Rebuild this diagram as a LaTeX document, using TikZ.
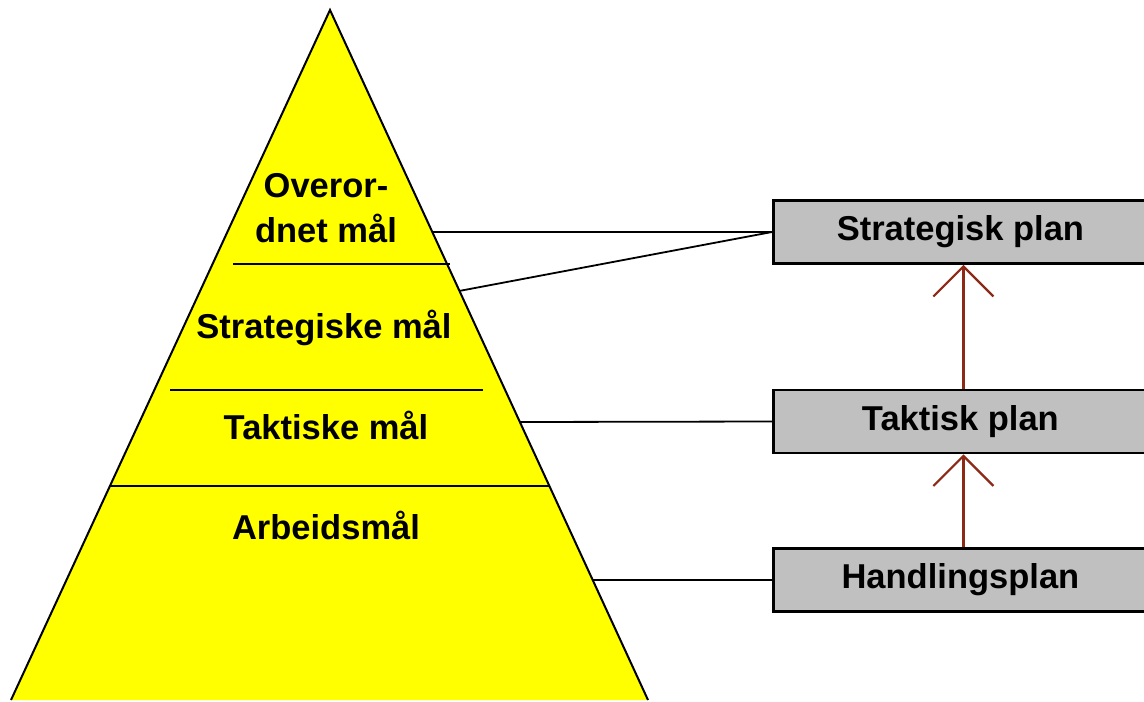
\documentclass[tikz,border=0pt]{standalone}
\usepackage{fontspec}
\setmainfont{Liberation Sans}
\usetikzlibrary{arrows.meta}
\definecolor{pyrfill}{RGB}{255,255,0}
\definecolor{boxfill}{RGB}{192,192,192}
\definecolor{arrowbrown}{RGB}{140,42,22}
\tikzset{
  lbl/.style={font=\fontsize{17.25}{22.5}\selectfont\bfseries, align=center, inner sep=0pt},
  planbox/.style={draw=black, line width=1.4pt, fill=boxfill, anchor=west,
    minimum width=187pt, minimum height=31.5pt, inner sep=0pt,
    font=\fontsize{17.25}{22.5}\selectfont\bfseries},
  level/.style={line width=1pt, black},
  link/.style={line width=0.9pt, black},
  uparrow/.style={line width=1.1pt, arrowbrown,
    -{Straight Barb[length=15pt,width=30pt,line width=1.1pt]}}
}
\begin{document}
\begin{tikzpicture}[x=0.5pt,y=-0.5pt]
  \useasboundingbox (0,0) rectangle (1144,701);
  \clip (0,0) rectangle (1144,701);
  \fill[white] (0,0) rectangle (1144,701);

  % pyramid
  \coordinate (apex) at (330,10);
  \coordinate (bl) at (11,700);
  \coordinate (br) at (648,700);
  \draw[fill=pyrfill, line width=1pt] (bl) -- (apex) -- (br);

  % level separators
  \draw[level] (233,264) -- (450,264);
  \draw[level] (170,390) -- (483,390);
  \draw[level] (110,486) -- (549,486);

  % level labels
  \node[lbl] (overordnet) at (326,208) {Overor-\\dnet mål};
  \node[lbl] (strategiske) at (324,328) {Strategiske mål};
  \node[lbl] (taktiske) at (326,425) {Taktiske mål};
  \node[lbl] (arbeid) at (326,525) {Arbeidsmål};

  % plan boxes
  \node[planbox] (strat) at (772,232) {Strategisk plan};
  \node[planbox] (takt) at (772,421.5) {Taktisk plan};
  \node[planbox] (handl) at (772,580) {Handlingsplan};

  % points on the pyramid edge where the links start
  \coordinate (e1) at (432,232);
  \coordinate (e2) at (459,291);
  \coordinate (e3) at (520,422);
  \coordinate (e4) at (592,580);

  % links from the pyramid to the plans
  \draw[link] (e1) -- (strat.west);
  \draw[link] (e2) -- (strat.west);
  \draw[link] (e3) -- (takt.west);
  \draw[link] (e4) -- (handl.west);

  % plan hierarchy arrows
  \draw[uparrow] ([xshift=1.5pt]takt.north) -- ([xshift=1.5pt]strat.south);
  \draw[uparrow] ([xshift=1.5pt]handl.north) -- ([xshift=1.5pt]takt.south);
\end{tikzpicture}
\end{document}
